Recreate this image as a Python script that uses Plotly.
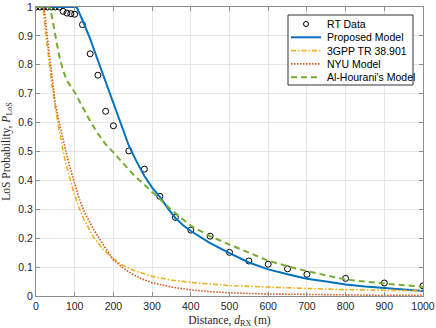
import plotly.graph_objects as go

# RT data (ray tracing samples)
rt_d = [0, 10, 20, 30, 40, 50, 60, 70, 80, 90, 100, 120, 140, 160, 180, 200, 240,
        280, 320, 360, 400, 450, 500, 550, 600, 650, 700, 800, 900, 1000]
rt_p = [1, 1, 1, 1, 1, 1, 1, 0.985, 0.979, 0.977, 0.975, 0.939, 0.838, 0.764, 0.639,
        0.589, 0.502, 0.439, 0.345, 0.272, 0.228, 0.207, 0.151, 0.121, 0.110, 0.094,
        0.075, 0.061, 0.045, 0.035]

# Proposed model
prop_d = [0, 105, 120, 140, 160, 180, 200, 220, 240, 260, 280, 300, 320, 340, 360,
          380, 400, 450, 500, 550, 600, 650, 700, 750, 800, 850, 900, 950, 1000]
prop_p = [1, 1, 0.955, 0.89, 0.815, 0.74, 0.665, 0.59, 0.52, 0.465, 0.415, 0.375,
          0.343, 0.305, 0.27, 0.245, 0.225, 0.183, 0.148, 0.116, 0.092, 0.075, 0.06,
          0.05, 0.04, 0.033, 0.027, 0.021, 0.017]

# 3GPP TR 38.901
gpp_d = [0, 18, 25, 30, 40, 50, 60, 70, 80, 90, 100, 110, 125, 150, 175, 200, 225,
         250, 300, 350, 400, 500, 600, 700, 800, 900, 1000]
gpp_p = [1, 1, 0.908, 0.848, 0.742, 0.649, 0.57, 0.502, 0.443, 0.392, 0.348, 0.309,
         0.262, 0.201, 0.159, 0.128, 0.106, 0.09, 0.068, 0.055, 0.047, 0.036, 0.030,
         0.026, 0.022, 0.020, 0.018]

# NYU model
nyu_d = [0, 21, 30, 40, 50, 60, 70, 80, 90, 100, 110, 125, 150, 175, 200, 225, 250,
         275, 300, 350, 400, 450, 500, 600, 700, 800, 900, 1000]
nyu_p = [1, 1, 0.885, 0.775, 0.665, 0.6, 0.54, 0.485, 0.435, 0.385, 0.343, 0.29,
         0.228, 0.175, 0.125, 0.097, 0.075, 0.058, 0.046, 0.031, 0.021, 0.015, 0.011,
         0.007, 0.005, 0.0035, 0.0025, 0.002]

# Al-Hourani's model
alh_d = [0, 35, 40, 50, 60, 70, 80, 100, 120, 140, 160, 180, 200, 250, 300, 350, 400,
         450, 500, 550, 600, 650, 700, 800, 900, 1000]
alh_p = [1, 1, 0.975, 0.9, 0.83, 0.78, 0.745, 0.705, 0.655, 0.605, 0.562, 0.525,
         0.497, 0.422, 0.36, 0.298, 0.243, 0.207, 0.178, 0.15, 0.122, 0.103, 0.086,
         0.057, 0.043, 0.032]

W, H = 436, 328
ML, MR, MT, MB = 36, 13, 7, 32
PW, PH = W - ML - MR, H - MT - MB


def px(x):
    return (x - ML) / PW


def py(y):
    return (H - MB - y) / PH


series = [
    dict(name='RT Data', x=rt_d, y=rt_p, kind='marker'),
    dict(name='Proposed Model', x=prop_d, y=prop_p, color='#0072BD', width=2, dash='solid'),
    dict(name='3GPP TR 38.901', x=gpp_d, y=gpp_p, color='#EDB120', width=1.6, dash='5px,2px,1.5px,2px'),
    dict(name='NYU Model', x=nyu_d, y=nyu_p, color='#D95319', width=1.6, dash='1.5px,1.5px'),
    dict(name="Al-Hourani's Model", x=alh_d, y=alh_p, color='#77AC30', width=2, dash='6px,4px'),
]

fig = go.Figure()
for s in series:
    if s.get('kind') == 'marker':
        fig.add_trace(go.Scatter(x=s['x'], y=s['y'], mode='markers', name=s['name'],
                                 marker=dict(symbol='circle-open', size=6, color='black',
                                             line=dict(width=1, color='black'))))
    else:
        fig.add_trace(go.Scatter(x=s['x'], y=s['y'], mode='lines', name=s['name'],
                                 line=dict(color=s['color'], width=s['width'], dash=s['dash'])))

# hand-made legend box (matches compact MATLAB legend spacing)
shapes = [dict(type='rect', xref='paper', yref='paper', x0=px(288), x1=px(413),
               y0=py(85), y1=py(15), line=dict(color='#333333', width=1),
               fillcolor='white', layer='above')]
annotations = []
row_y = [24, 37.3, 50.6, 63.9, 77.2]
for s, ry in zip(series, row_y):
    if s.get('kind') == 'marker':
        shapes.append(dict(type='circle', xref='paper', yref='paper',
                           x0=px(303.5), x1=px(308.5), y0=py(ry + 2.5), y1=py(ry - 2.5),
                           line=dict(color='black', width=1), layer='above'))
    else:
        shapes.append(dict(type='line', xref='paper', yref='paper',
                           x0=px(291), x1=px(321), y0=py(ry), y1=py(ry),
                           line=dict(color=s['color'], width=s['width'], dash=s['dash']),
                           layer='above'))
    annotations.append(dict(text=s['name'], xref='paper', yref='paper', x=px(325),
                            y=py(ry), xanchor='left', yanchor='middle', showarrow=False,
                            font=dict(family='Liberation Sans, Arial', size=10.5, color='black')))

axis_common = dict(
    showgrid=True, gridcolor='#E6E6E6', gridwidth=1,
    showline=True, linecolor='#8C8C8C', linewidth=1, mirror='ticks',
    ticks='inside', ticklen=4, tickcolor='#8C8C8C',
    tickfont=dict(family='Liberation Sans, Arial', size=10.5, color='#262626'),
    zeroline=False, automargin=False,
)

fig.update_layout(
    width=W, height=H,
    margin=dict(l=ML, r=MR, t=MT, b=MB),
    paper_bgcolor='white', plot_bgcolor='white',
    xaxis=dict(range=[0, 1000], dtick=100, tick0=0,
               title=dict(text='Distance, <i>d</i><sub>RX</sub> (m)',
                          font=dict(family='Liberation Serif, DejaVu Serif', size=11.5,
                                    color='#262626')),
               **axis_common),
    yaxis=dict(range=[0, 1], dtick=0.1, tick0=0,
               title=dict(text='LoS Probability, <i>P</i><sub>LoS</sub>',
                          font=dict(family='Liberation Serif, DejaVu Serif', size=11.5,
                                    color='#262626')),
               **axis_common),
    showlegend=False,
    shapes=shapes,
    annotations=annotations,
)

fig.write_html("out.html", config={'displayModeBar': False},
               post_script="document.body.style.margin='0';")
